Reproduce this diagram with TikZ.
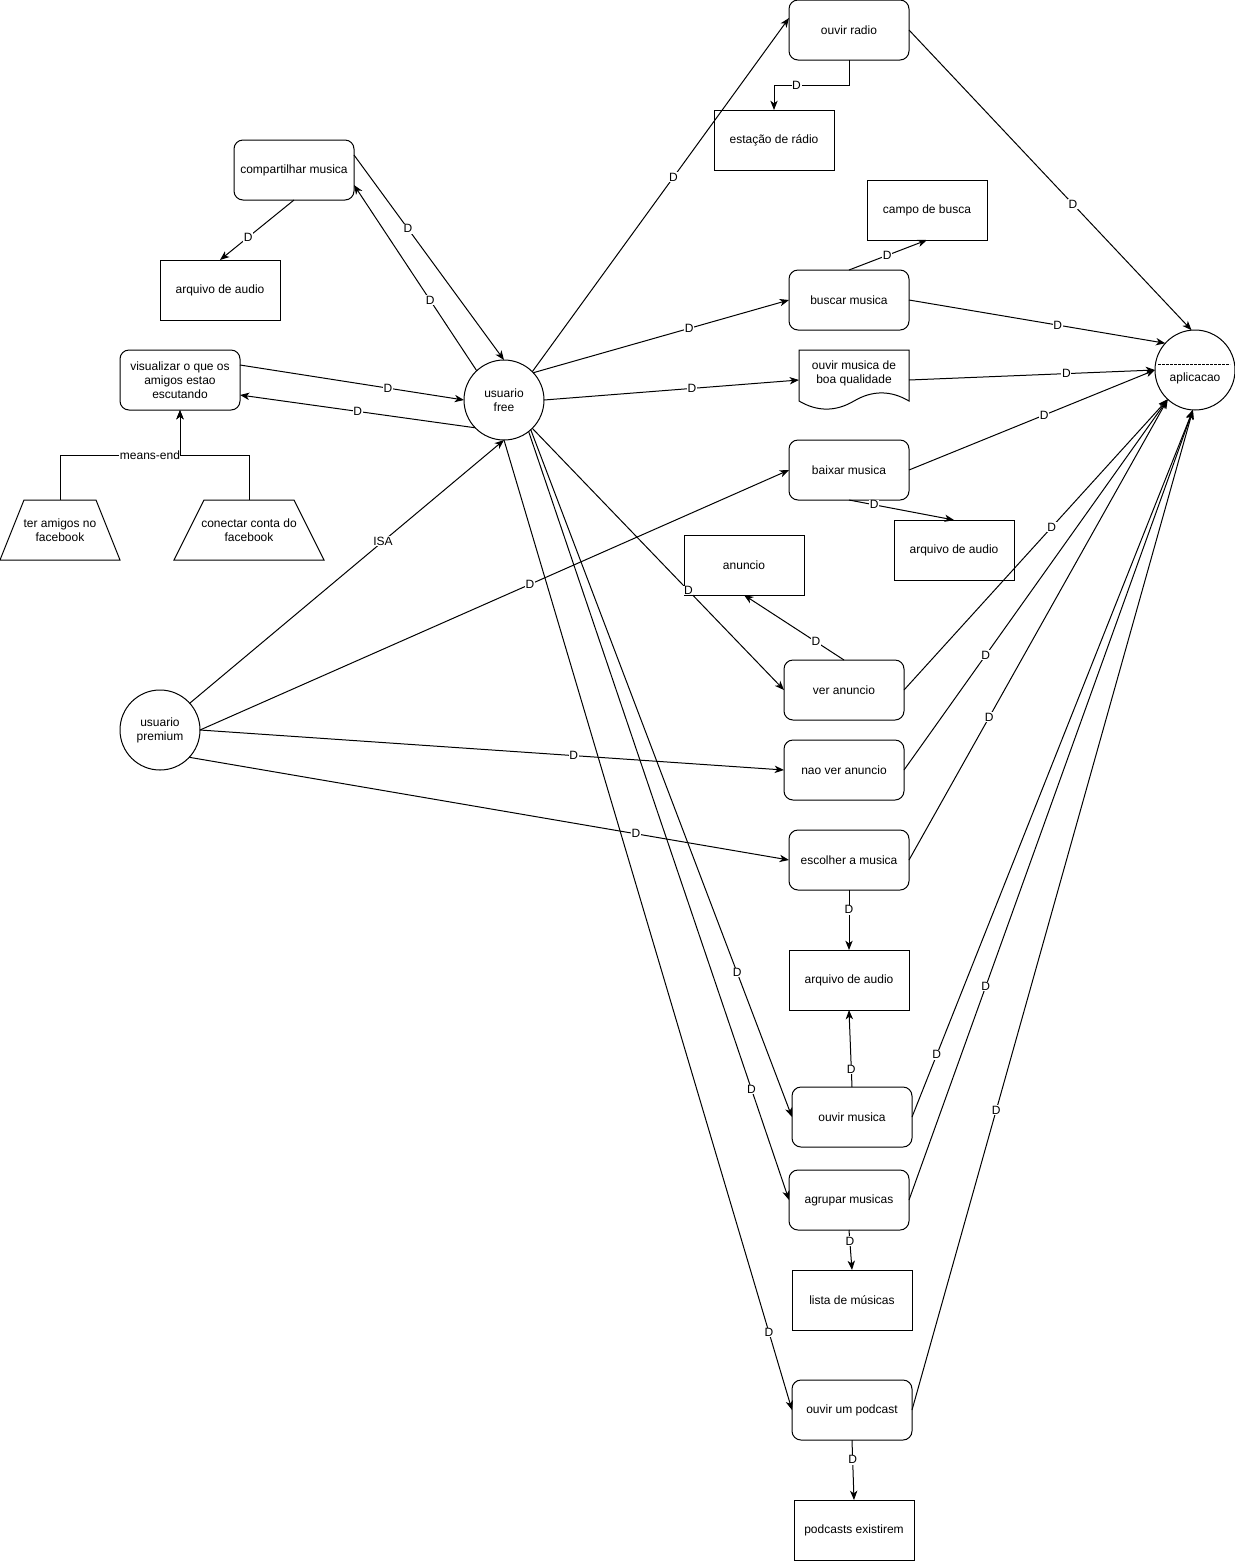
\documentclass[tikz,border=0pt]{standalone}
\usepackage{fontspec}
\setmainfont{Liberation Sans}
\usetikzlibrary{calc,arrows.meta}
\newcommand\mainfs{\fontsize{9}{10.5}\selectfont}
\newcommand\lblfs{\fontsize{9}{10}\selectfont}
\begin{document}
\begin{tikzpicture}[x=0.75pt,y=-0.75pt,
  nbase/.style={line width=0.75pt, font=\mainfs, align=center, inner sep=0pt, outer sep=0pt},
  goal/.style={nbase, draw, rectangle, rounded corners=6.75pt, minimum width=90pt, minimum height=45pt},
  res/.style={nbase, draw, rectangle, minimum width=90pt, minimum height=45pt},
  actor/.style={nbase, draw, circle, minimum size=60pt},
  lbl/.style={fill=white, font=\lblfs, inner sep=0.5pt},
  dep/.style={line width=0.75pt, -{Stealth[length=7pt,width=5.5pt,inset=2pt]}},
  outl/.style={line width=0.75pt}
]
\useasboundingbox (0,0) rectangle (1235,1561);

% nodes
\node[goal] (radio) at (849,30) {ouvir radio};
\node[res] (est) at (774,140) {estação de rádio};
\node[goal] (comp) at (294,170) {compartilhar musica};
\node[res] (arq1) at (220,290) {arquivo de audio};
\node[res] (campo) at (927,210) {campo de busca};
\node[goal] (buscar) at (849,300) {buscar musica};
\node[goal] (vis) at (180,380) {visualizar o que os\\amigos estao\\escutando};
\node[actor] (free) at (504,400) {usuario\\free};
\node[nbase, minimum width=82.5pt, minimum height=45pt] (boa) at (854,373) {ouvir musica de\\boa qualidade};
\draw[outl, shift={(boa.center)}] (-55,-23) -- (55,-23) -- (55,28)
  .. controls (36.67,17.2) and (18.33,17.2) .. (0,28)
  .. controls (-18.33,38.8) and (-36.67,38.8) .. (-55,28) -- cycle;
\node[actor, label={[font=\mainfs, yshift=-6pt]center:aplicacao}] (app) at (1195,370) {};
\draw[outl, dashed, dash pattern=on 2pt off 1pt] ($(app.center)+(-37,-6)$) -- ($(app.center)+(35,-6)$);
\node[goal] (baixar) at (849,470) {baixar musica};
\node[nbase, minimum width=90pt, minimum height=45pt] (ter) at (60,530) {ter amigos no\\facebook};
\draw[outl] (ter.south west) -- (ter.south east) -- ($(ter.north east)+(-24,0)$) -- ($(ter.north west)+(24,0)$) -- cycle;
\node[nbase, minimum width=112.5pt, minimum height=45pt] (con) at (249,530) {conectar conta do\\facebook};
\draw[outl] (con.south west) -- (con.south east) -- ($(con.north east)+(-30,0)$) -- ($(con.north west)+(30,0)$) -- cycle;
\node[res] (arq2) at (954,550) {arquivo de audio};
\node[res] (anun) at (744,565) {anuncio};
\node[goal] (ver) at (844,690) {ver anuncio};
\node[actor] (prem) at (160,730) {usuario\\premium};
\node[goal] (nao) at (844,770) {nao ver anuncio};
\node[goal] (esc) at (849,860) {escolher a musica};
\node[res] (arq3) at (849,980) {arquivo de audio};
\node[goal] (ouvir) at (852,1117) {ouvir musica};
\node[goal] (agr) at (849,1200) {agrupar musicas};
\node[res] (lista) at (852,1300) {lista de músicas};
\node[goal] (pod) at (852,1410) {ouvir um podcast};
\node[res] (podex) at (854,1530) {podcasts existirem};

% connectors
\draw[dep] (free.45) -- node[lbl,pos=0.55]{D} ($(radio.west)+(0,-12)$);
\draw[dep] (radio.south) -- ++(0,25) -| node[lbl,pos=0.35]{D} (est.north);
\draw[dep] (radio.east) -- node[lbl,pos=0.58]{D} (app.95);
\draw[dep] ($(comp.east)+(0,-15)$) -- node[lbl,pos=0.36]{D} (free.north);
\draw[dep] (free.133) -- node[lbl,pos=0.38]{D} ($(comp.east)+(0,15)$);
\draw[dep] (comp.south) -- node[lbl,pos=0.62]{D} (arq1.north);
\draw[dep] ($(vis.east)+(0,-15)$) -- node[lbl,pos=0.66]{D} (free.west);
\draw[dep] (free.224) -- node[lbl,pos=0.5]{D} ($(vis.east)+(0,15)$);
\draw[dep] (ter.north) -- ++(0,-45) -| node[lbl,pos=0.375]{means-end} (vis.south);
\draw[dep] (con.north) -- ++(0,-45) -| (vis.south);
\draw[dep] (prem.42) -- node[lbl,pos=0.615]{ISA} (free.south);
\draw[dep] (prem.east) -- node[lbl,pos=0.56]{D} (baixar.west);
\draw[dep] (prem.east) -- node[lbl,pos=0.64]{D} (nao.west);
\draw[dep] (prem.-43) -- node[lbl,pos=0.745]{D} (esc.west);
\draw[dep] (free.43) -- node[lbl,pos=0.61]{D} (buscar.west);
\draw[dep] (buscar.north) -- node[lbl,pos=0.49]{D} (campo.south);
\draw[dep] (buscar.east) -- node[lbl,pos=0.58]{D} (app.138);
\draw[dep] (free.east) -- node[lbl,pos=0.58]{D} ($(boa.west)+(0,7)$);
\draw[dep] ($(boa.east)+(0,7)$) -- node[lbl,pos=0.64]{D} (app.west);
\draw[dep] (baixar.east) -- node[lbl,pos=0.55]{D} (app.west);
\draw[dep] (baixar.south) -- node[lbl,pos=0.24]{D} (arq2.north);
\draw[dep] (free.-45) -- node[lbl,pos=0.62]{D} (ver.west);
\draw[dep] (ver.north) -- node[lbl,pos=0.28]{D} (anun.south);
\draw[dep] (ver.east) -- node[lbl,pos=0.56]{D} (app.227);
\draw[dep] (nao.east) -- node[lbl,pos=0.31]{D} (app.227);
\draw[dep] (esc.east) -- node[lbl,pos=0.31]{D} (app.227);
\draw[dep] (esc.south) -- node[lbl,pos=0.33]{D} (arq3.north);
\draw[dep] (free.-48) -- node[lbl,pos=0.79]{D} (ouvir.west);
\draw[dep] (free.-52) -- node[lbl,pos=0.856]{D} (agr.west);
\draw[dep] (free.south) -- node[lbl,pos=0.92]{D} (pod.west);
\draw[dep] (ouvir.north) -- node[lbl,pos=0.23]{D} (arq3.south);
\draw[dep] (ouvir.east) -- node[lbl,pos=0.088]{D} (app.267);
\draw[dep] (agr.east) -- node[lbl,pos=0.27]{D} (app.267);
\draw[dep] (agr.south) -- node[lbl,pos=0.28]{D} (lista.north);
\draw[dep] (pod.east) -- node[lbl,pos=0.30]{D} (app.267);
\draw[dep] (pod.south) -- node[lbl,pos=0.33]{D} (podex.north);
\end{tikzpicture}
\end{document}
